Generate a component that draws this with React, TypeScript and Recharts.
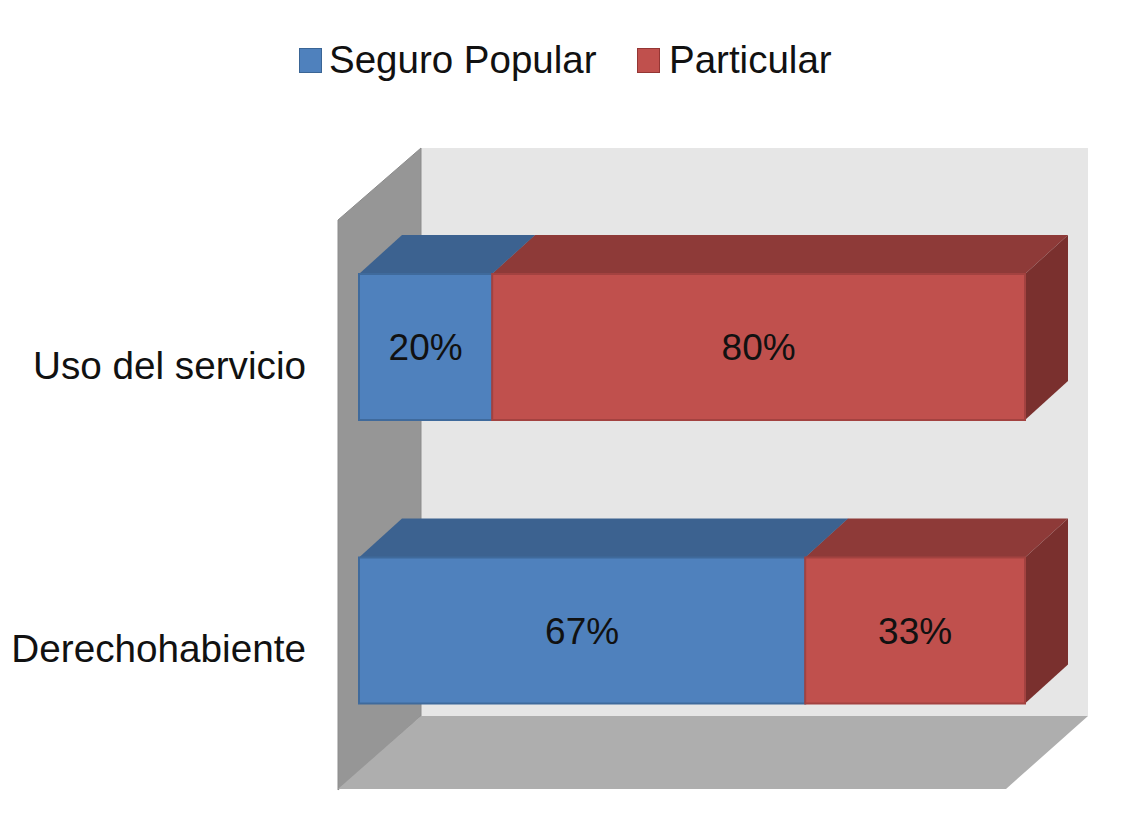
import React from 'react';
import { BarChart, Bar, XAxis, YAxis, Legend, LabelList, Customized } from 'recharts';

const categories = ['Uso del servicio', 'Derechohabiente'];
const seguroPopular = [20, 67];
const particular = [80, 33];

const chartData = categories.map((name, i) => ({
  name,
  seguro: seguroPopular[i],
  particular: particular[i],
}));

const FONT = '"Liberation Sans", Arial, sans-serif';
const DEPTH_X = 43;
const DEPTH_Y = 39;

// the 3d box behind the bars
const Walls = () => (
  <g>
    <polygon points="421,148 1088,148 1088,716 421,716" fill="#e6e6e6" />
    <polygon points="338,220 421,148 421,716 338,790" fill="#969696" stroke="#8c8c8c" />
    <polygon points="421,716 1088,716 1006,789 338,789" fill="#aeaeae" />
  </g>
);

const Bar3D = (props: any) => {
  const { x, y, width, height, front, top, side, edge } = props;
  const dx = DEPTH_X;
  const dy = DEPTH_Y;
  return (
    <g>
      <polygon
        points={`${x},${y} ${x + width},${y} ${x + width + dx},${y - dy} ${x + dx},${y - dy}`}
        fill={top}
      />
      <polygon
        points={`${x + width},${y} ${x + width + dx},${y - dy} ${x + width + dx},${y + height - dy} ${x + width},${y + height}`}
        fill={side}
      />
      <rect x={x} y={y} width={width} height={height} fill={front} stroke={edge} strokeWidth={2} />
    </g>
  );
};

const CategoryTick = (props: any) => {
  const { x, y, payload } = props;
  return (
    <text x={x - 47} y={y + 32} textAnchor="end" fontFamily={FONT} fontSize={38.7} fill="#111">
      {payload.value}
    </text>
  );
};

const legendItems = [
  { label: 'Seguro Popular', fill: '#4f81bd', edge: '#3a6595', width: 338, gap: 7 },
  { label: 'Particular', fill: '#c0504d', edge: '#943634', width: 200, gap: 9 },
];

const ChartLegend = () => (
  <div style={{ display: 'flex', paddingLeft: 299, height: 60, fontFamily: FONT, fontSize: 38.5, color: '#111' }}>
    {legendItems.map((item) => (
      <div key={item.label} style={{ display: 'flex', alignItems: 'center', width: item.width }}>
        <span
          style={{
            width: 21,
            height: 23,
            marginRight: item.gap,
            background: item.fill,
            border: `1.5px solid ${item.edge}`,
            display: 'inline-block',
          }}
        />
        <span>{item.label}</span>
      </div>
    ))}
  </div>
);

const pct = (v: any) => `${v}%`;

export default function App() {
  return (
    <div style={{ position: 'absolute', left: 0, top: 0, width: 1135, height: 840, background: '#fff' }}>
      <BarChart
        width={1135}
        height={840}
        data={chartData}
        layout="vertical"
        barCategoryGap={69}
        margin={{ top: 30, right: 110, bottom: 68, left: 0 }}
      >
        <Legend
          verticalAlign="top"
          align="left"
          height={175}
          content={<ChartLegend />}
          wrapperStyle={{ left: 0, top: 30, width: 1135 }}
        />
        <Customized component={Walls} />
        <XAxis type="number" domain={[0, 100]} hide />
        <YAxis
          type="category"
          dataKey="name"
          width={359}
          axisLine={false}
          tickLine={false}
          tickMargin={0}
          tick={<CategoryTick />}
        />
        <Bar
          dataKey="seguro"
          stackId="a"
          isAnimationActive={false}
          shape={(p: any) => <Bar3D {...p} front="#4f81bd" top="#3c6290" side="#335578" edge="#3f6a9c" />}
        >
          <LabelList dataKey="seguro" position="center" formatter={pct} fontFamily={FONT} fontSize={37} fill="#111" />
        </Bar>
        <Bar
          dataKey="particular"
          stackId="a"
          isAnimationActive={false}
          shape={(p: any) => <Bar3D {...p} front="#c0504d" top="#8e3a38" side="#7a302e" edge="#a34240" />}
        >
          <LabelList dataKey="particular" position="center" formatter={pct} fontFamily={FONT} fontSize={37} fill="#111" />
        </Bar>
      </BarChart>
    </div>
  );
}
